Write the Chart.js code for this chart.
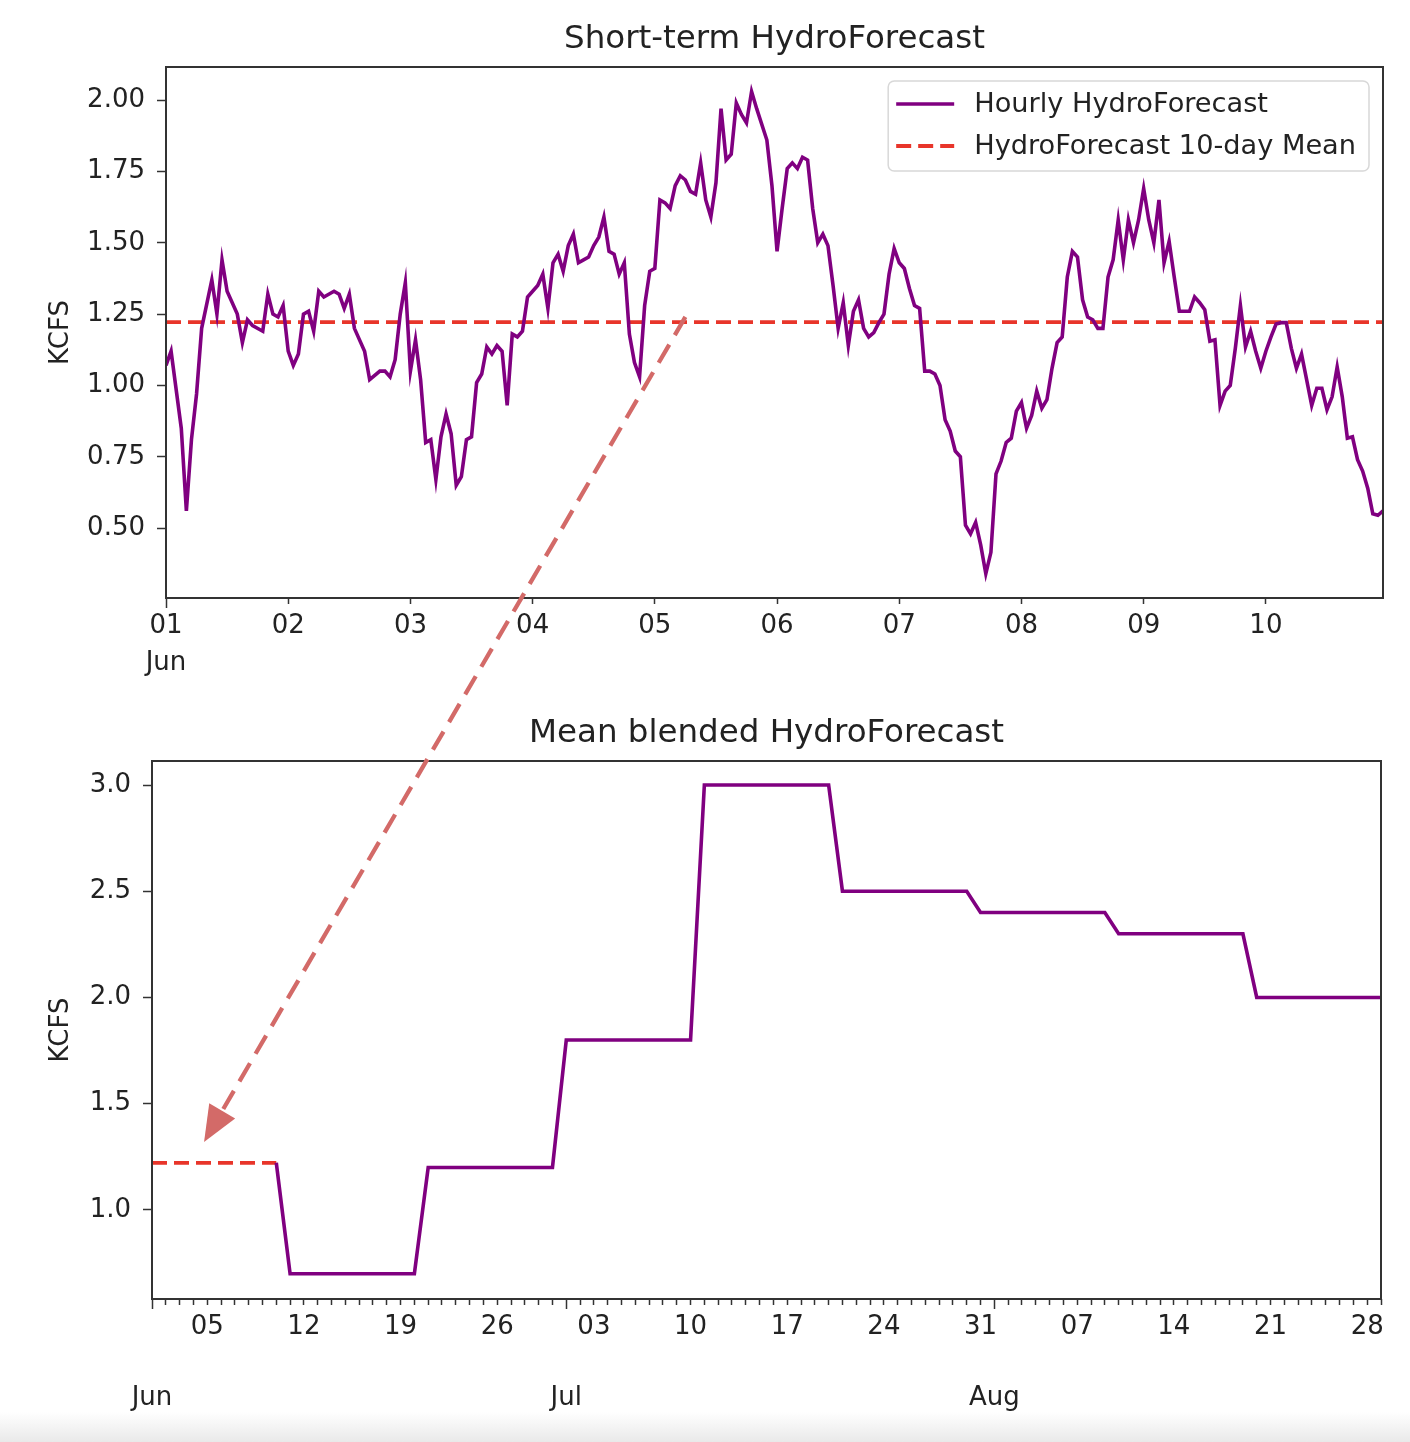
<!DOCTYPE html>
<html>
<head>
<meta charset="utf-8">
<script src="https://cdn.jsdelivr.net/npm/chart.js@4.4.0/dist/chart.umd.min.js"></script>
<style>
  html, body { margin: 0; padding: 0; background: #fff; }
  body { width: 1410px; height: 1442px; position: relative; overflow: hidden; }
  #topChart { position: absolute; left: 0; top: 0; }
  #bottomChart { position: absolute; left: 0; top: 690px; }
  #overlay { position: absolute; left: 0; top: 0; pointer-events: none; }
  .shade { position: absolute; left: 0; top: 1412px; width: 1410px; height: 30px; background: linear-gradient(#fff, #e9e9e9); }
</style>
</head>
<body>
<canvas id="topChart" width="1410" height="690"></canvas>
<canvas id="bottomChart" width="1410" height="730"></canvas>
<div class="shade"></div>
<canvas id="overlay" width="1410" height="1442"></canvas>
<script>
// --- top panel: hourly forecast, Jun 1 00:00 .. Jun 10 23:00 (hours since start)
const HOURS = [
  0, 1, 3, 4, 5, 6, 7, 9, 10, 11, 12, 14, 15, 16, 17, 19, 20, 21, 22, 23,
  24, 25, 26, 27, 28, 29, 30, 31, 33, 34, 35, 36, 37, 39, 40, 42, 43, 44, 45, 46,
  47, 48, 49, 50, 51, 52, 53, 54, 55, 56, 57, 58, 59, 60, 61, 62, 63, 64, 65, 66,
  67, 68, 69, 70, 71, 72, 73, 74, 75, 76, 77, 78, 79, 80, 81, 82, 83, 84, 85, 86,
  87, 88, 89, 90, 91, 92, 93, 94, 95, 96, 97, 98, 99, 100, 101, 102, 103, 104, 105, 106,
  107, 108, 109, 110, 111, 112, 113, 114, 115, 116, 118, 119, 120, 121, 122, 123, 124, 125, 126, 127,
  128, 129, 130, 131, 132, 133, 134, 135, 136, 137, 138, 139, 140, 141, 142, 143, 144, 145, 146, 147,
  148, 149, 150, 151, 152, 153, 154, 155, 156, 157, 158, 159, 160, 161, 162, 163, 164, 165, 166, 167,
  168, 169, 170, 171, 172, 173, 174, 175, 176, 177, 178, 179, 180, 181, 182, 183, 184, 185, 186, 187,
  188, 189, 190, 191, 192, 193, 194, 195, 196, 197, 198, 199, 200, 201, 202, 203, 204, 205, 206, 207,
  208, 209, 210, 211, 212, 213, 214, 215, 216, 217, 218, 219, 220, 221, 222, 223, 224, 225, 226, 227,
  228, 229, 230, 231, 232, 233, 234, 235, 236, 237, 238, 239
];
const HOURLY_KCFS = [
  1.07, 1.12, 0.85, 0.56, 0.81, 0.97, 1.20, 1.37, 1.25, 1.44, 1.33, 1.25, 1.15, 1.23, 1.21, 1.19, 1.32, 1.25, 1.24, 1.28,
  1.12, 1.07, 1.11, 1.25, 1.26, 1.19, 1.33, 1.31, 1.33, 1.32, 1.27, 1.32, 1.20, 1.12, 1.02, 1.05, 1.05, 1.03, 1.09, 1.25,
  1.36, 1.05, 1.16, 1.02, 0.80, 0.81, 0.67, 0.82, 0.90, 0.83, 0.65, 0.68, 0.81, 0.82, 1.01, 1.04, 1.135, 1.11, 1.14, 1.12,
  0.93, 1.18, 1.17, 1.19, 1.31, 1.33, 1.35, 1.39, 1.27, 1.43, 1.46, 1.40, 1.49, 1.53, 1.43, 1.44, 1.45, 1.49, 1.52, 1.59,
  1.47, 1.46, 1.39, 1.43, 1.18, 1.08, 1.03, 1.28, 1.40, 1.41, 1.65, 1.64, 1.62, 1.70, 1.735, 1.72, 1.68, 1.67, 1.78, 1.65,
  1.59, 1.71, 1.97, 1.79, 1.81, 1.99, 1.95, 1.92, 2.03, 1.97, 1.86, 1.70, 1.47, 1.62, 1.76, 1.78, 1.76, 1.80, 1.79, 1.62,
  1.50, 1.53, 1.49, 1.35, 1.20, 1.29, 1.14, 1.26, 1.30, 1.20, 1.17, 1.185, 1.22, 1.25, 1.39, 1.48, 1.43, 1.41, 1.34, 1.28,
  1.27, 1.05, 1.05, 1.04, 1.00, 0.88, 0.84, 0.77, 0.75, 0.51, 0.48, 0.52, 0.44, 0.34, 0.415, 0.69, 0.735, 0.80, 0.815, 0.91,
  0.94, 0.85, 0.895, 0.98, 0.92, 0.95, 1.06, 1.15, 1.17, 1.38, 1.47, 1.45, 1.30, 1.24, 1.23, 1.20, 1.20, 1.38, 1.44, 1.58,
  1.44, 1.58, 1.50, 1.58, 1.69, 1.58, 1.50, 1.65, 1.43, 1.505, 1.38, 1.26, 1.26, 1.26, 1.31, 1.29, 1.265, 1.155, 1.16, 0.93,
  0.98, 1.00, 1.13, 1.28, 1.135, 1.19, 1.12, 1.06, 1.12, 1.17, 1.215, 1.22, 1.22, 1.13, 1.06, 1.11, 1.02, 0.93, 0.99, 0.99,
  0.915, 0.96, 1.065, 0.96, 0.815, 0.82, 0.74, 0.70, 0.64, 0.55, 0.545, 0.56
];
const MEAN_KCFS = 1.222;
const TOP_TICK_HOURS = [0, 24, 48, 72, 96, 120, 144, 168, 192, 216];
const TOP_TICK_LABELS = [['01', 'Jun'], '02', '03', '04', '05', '06', '07', '08', '09', '10'];
const TOP_Y_TICKS = [0.5, 0.75, 1.0, 1.25, 1.5, 1.75, 2.0];

// --- bottom panel: blended forecast, days since Jun 1 (corner points of the steps)
const MEAN_DAYS = [0, 9];
const BLEND_DAYS = [9, 10, 19, 20, 29, 30, 39, 40, 49, 50, 59, 60, 69, 70, 79, 80, 89];
const BLEND_KCFS = [1.222, 0.7, 0.7, 1.2, 1.2, 1.8, 1.8, 3.0, 3.0, 2.5, 2.5, 2.4, 2.4, 2.3, 2.3, 2.0, 2.0];
const LAST_DAY = 89;
const WEEK_TICK_DAYS = [4, 11, 18, 25, 32, 39, 46, 53, 60, 67, 74, 81, 88];
const WEEK_TICK_LABELS = ['05', '12', '19', '26', '03', '10', '17', '24', '31', '07', '14', '21', '28'];
const MONTH_TICK_DAYS = [0, 30, 61];
const MONTH_LABELS = ['Jun', 'Jul', 'Aug'];
const BOTTOM_Y_TICKS = [1.0, 1.5, 2.0, 2.5, 3.0];

// annotation arrow: [top hour, kcfs] -> [bottom day, kcfs]
const ARROW_FROM = [102, 1.24];
const ARROW_TO = [3.77, 1.32];

const PURPLE = '#800080';
const RED = '#e8352a';
const ARROW_COLOR = '#d36a68';
const TEXT = '#222';
const FONT = '"DejaVu Sans", sans-serif';

Chart.defaults.font.family = FONT;
Chart.defaults.color = TEXT;

const framePlugin = {
  id: 'frame',
  afterDraw(chart, args, opts) {
    const { ctx, chartArea: a } = chart;
    ctx.save();
    ctx.strokeStyle = '#333';
    ctx.lineWidth = 2;
    ctx.strokeRect(a.left, a.top, a.right - a.left, a.bottom - a.top);
    ctx.fillStyle = TEXT;
    ctx.font = '32.5px ' + FONT;
    ctx.textAlign = 'center';
    ctx.textBaseline = 'middle';
    ctx.fillText(opts.text, (a.left + a.right) / 2, a.top - 27);
    ctx.restore();
  }
};

const insideLegend = {
  id: 'insideLegend',
  afterDraw(chart, args, opts) {
    if (!opts.show) return;
    const { ctx, chartArea: a } = chart;
    const sets = chart.data.datasets;
    ctx.save();
    ctx.font = '27.2px ' + FONT;
    const textW = Math.max(...sets.map(d => ctx.measureText(d.label).width));
    const w = 8 + 58 + 20 + textW + 13;
    const h = 90;
    const x = a.right - 14 - w;
    const y = a.top + 14;
    ctx.beginPath();
    ctx.roundRect(x, y, w, h, 6);
    ctx.fillStyle = 'rgba(255,255,255,0.85)';
    ctx.fill();
    ctx.strokeStyle = '#d8d8d8';
    ctx.lineWidth = 1.5;
    ctx.stroke();
    sets.forEach((d, i) => {
      const cy = y + 23 + i * 42;
      ctx.beginPath();
      ctx.strokeStyle = d.borderColor;
      ctx.lineWidth = d.borderWidth;
      ctx.setLineDash(d.borderDash || []);
      ctx.moveTo(x + 8, cy);
      ctx.lineTo(x + 66, cy);
      ctx.stroke();
      ctx.setLineDash([]);
      ctx.fillStyle = TEXT;
      ctx.textBaseline = 'middle';
      ctx.fillText(d.label, x + 86, cy + 1);
    });
    ctx.restore();
  }
};

function yAxis(width, ticks, digits) {
  return {
    type: 'linear',
    bounds: 'data',
    afterFit: s => { s.width = width; },
    afterBuildTicks: s => { s.ticks = ticks.map(v => ({ value: v })); },
    grid: { drawOnChartArea: false, tickLength: 9, tickColor: '#333', tickWidth: 1.5 },
    border: { display: false },
    ticks: { font: { size: 26 }, padding: 12, callback: v => v.toFixed(digits) },
    title: { display: true, text: 'KCFS', font: { size: 26 }, padding: { top: 46 } }
  };
}

const topChart = new Chart(document.getElementById('topChart'), {
  type: 'line',
  data: {
    datasets: [
      {
        label: 'Hourly HydroForecast',
        data: HOURS.map((h, i) => ({ x: h, y: HOURLY_KCFS[i] })),
        borderColor: PURPLE,
        borderWidth: 3.6,
        pointRadius: 0,
        tension: 0
      },
      {
        label: 'HydroForecast 10-day Mean',
        data: [HOURS[0], HOURS[HOURS.length - 1]].map(h => ({ x: h, y: MEAN_KCFS })),
        borderColor: RED,
        borderWidth: 3.8,
        borderDash: [15, 7],
        pointRadius: 0
      }
    ]
  },
  options: {
    responsive: false,
    animation: false,
    events: [],
    layout: { padding: { top: 67, right: 27, left: 0, bottom: 0 } },
    plugins: {
      legend: { display: false },
      tooltip: { enabled: false },
      frame: { text: 'Short-term HydroForecast' },
      insideLegend: { show: true }
    },
    scales: {
      x: {
        type: 'linear',
        bounds: 'data',
        min: HOURS[0],
        max: HOURS[HOURS.length - 1],
        afterFit: s => { s.height = 92; },
        afterBuildTicks: s => { s.ticks = TOP_TICK_HOURS.map(v => ({ value: v })); },
        grid: {
          drawOnChartArea: false, tickLength: 10, tickColor: '#333', tickWidth: 1.5,
          tickBorderDash: c => (c.index === 0 ? [] : [6, 100])
        },
        border: { display: false },
        ticks: {
          font: { size: 26, lineHeight: 1.42 }, padding: 0, autoSkip: false,
          maxRotation: 0, minRotation: 0,
          callback: (v, i) => TOP_TICK_LABELS[i]
        }
      },
      y: Object.assign(yAxis(166, TOP_Y_TICKS, 2), { min: 0.255, max: 2.116 })
    }
  },
  plugins: [framePlugin, insideLegend]
});

const bottomChart = new Chart(document.getElementById('bottomChart'), {
  type: 'line',
  data: {
    datasets: [
      {
        label: 'Mean blended HydroForecast',
        data: BLEND_DAYS.map((d, i) => ({ x: d, y: BLEND_KCFS[i] })),
        borderColor: PURPLE,
        borderWidth: 3.6,
        pointRadius: 0,
        tension: 0
      },
      {
        label: 'HydroForecast 10-day Mean',
        data: MEAN_DAYS.map(d => ({ x: d, y: MEAN_KCFS })),
        borderColor: RED,
        borderWidth: 3.8,
        borderDash: [15, 7],
        pointRadius: 0
      }
    ]
  },
  options: {
    responsive: false,
    animation: false,
    events: [],
    layout: { padding: { top: 71, right: 29, left: 0, bottom: 0 } },
    plugins: {
      legend: { display: false },
      tooltip: { enabled: false },
      frame: { text: 'Mean blended HydroForecast' },
      insideLegend: { show: false }
    },
    scales: {
      x: {
        type: 'linear',
        bounds: 'data',
        min: 0,
        max: LAST_DAY,
        afterFit: s => { s.height = 121; },
        afterBuildTicks: s => {
          const t = [];
          for (let d = 0; d <= LAST_DAY; d++) t.push({ value: d });
          s.ticks = t;
        },
        grid: {
          drawOnChartArea: false, tickLength: 10, tickColor: '#333', tickWidth: 1.5,
          tickBorderDash: c => (MONTH_TICK_DAYS.includes(c.tick && c.tick.value) ? [] : [6, 100])
        },
        border: { display: false },
        ticks: {
          font: { size: 26, lineHeight: 1.38 }, padding: 0, autoSkip: false,
          maxRotation: 0, minRotation: 0,
          callback: v => {
            const w = WEEK_TICK_DAYS.indexOf(v);
            if (w >= 0) return WEEK_TICK_LABELS[w];
            const m = MONTH_TICK_DAYS.indexOf(v);
            if (m >= 0) return ['', '', MONTH_LABELS[m]];
            return '';
          }
        }
      },
      y: Object.assign(yAxis(152, BOTTOM_Y_TICKS, 1), { min: 0.581, max: 3.113 })
    }
  },
  plugins: [framePlugin, insideLegend]
});

// dashed annotation arrow running from the top panel into the bottom one
function drawArrow() {
  const topCanvas = document.getElementById('topChart');
  const botCanvas = document.getElementById('bottomChart');
  const x1 = topCanvas.offsetLeft + topChart.scales.x.getPixelForValue(ARROW_FROM[0]);
  const y1 = topCanvas.offsetTop + topChart.scales.y.getPixelForValue(ARROW_FROM[1]);
  const x2 = botCanvas.offsetLeft + bottomChart.scales.x.getPixelForValue(ARROW_TO[0]);
  const y2 = botCanvas.offsetTop + bottomChart.scales.y.getPixelForValue(ARROW_TO[1]);
  const len = Math.hypot(x2 - x1, y2 - y1);
  const ux = (x2 - x1) / len, uy = (y2 - y1) / len;
  const headLen = 36, headHalf = 15;
  const bx = x2 - ux * headLen, by = y2 - uy * headLen;
  const ctx = document.getElementById('overlay').getContext('2d');
  ctx.save();
  ctx.strokeStyle = ARROW_COLOR;
  ctx.fillStyle = ARROW_COLOR;
  ctx.lineWidth = 4.3;
  ctx.setLineDash([21, 11]);
  ctx.beginPath();
  ctx.moveTo(x1, y1);
  ctx.lineTo(bx + ux * 4, by + uy * 4);
  ctx.stroke();
  ctx.setLineDash([]);
  ctx.beginPath();
  ctx.moveTo(x2, y2);
  ctx.lineTo(bx - uy * headHalf, by + ux * headHalf);
  ctx.lineTo(bx + uy * headHalf, by - ux * headHalf);
  ctx.closePath();
  ctx.fill();
  ctx.restore();
}
drawArrow();
</script>
</body>
</html>
